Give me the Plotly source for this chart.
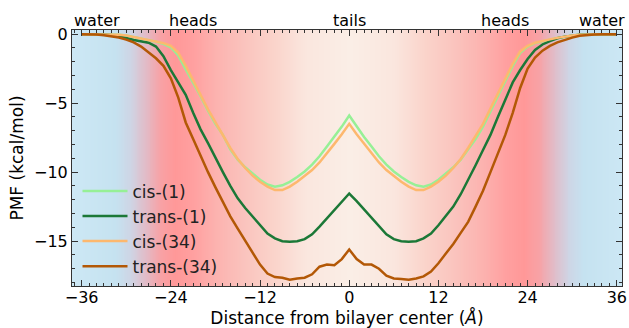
import numpy as np
import plotly.graph_objects as go

# ---- data ----
distance = list(range(-36, 37))  # Å

cis_1 = [0, 0, 0, 0, -0.02, -0.05, -0.1, -0.2, -0.3, -0.42, -0.55, -0.7,
         -0.95, -1.55, -2.5, -3.5, -4.5, -5.55, -6.5, -7.3, -8.35, -9.1,
         -9.65, -10.1, -10.55, -10.9, -11.05, -10.95, -10.7, -10.35, -9.95,
         -9.45, -8.85, -8.15, -7.45, -6.7, -5.9,
         -6.7, -7.45, -8.15, -8.85, -9.45, -9.95, -10.35, -10.7, -10.95,
         -11.05, -10.9, -10.55, -10.1, -9.65, -9.1, -8.35, -7.6, -6.7, -5.6,
         -4.5, -3.4, -2.3, -1.35, -0.9, -0.65, -0.5, -0.4, -0.28, -0.18,
         -0.1, -0.05, -0.02, 0, 0, 0, 0]

cis_34 = [0, 0, 0, 0, -0.02, -0.05, -0.1, -0.2, -0.3, -0.4, -0.52, -0.65,
          -0.85, -1.35, -2.3, -3.3, -4.4, -5.45, -6.4, -7.3, -8.25, -9.05,
          -9.7, -10.25, -10.7, -11.05, -11.3, -11.3, -11.05, -10.7, -10.3,
          -9.85, -9.3, -8.65, -7.95, -7.25, -6.5,
          -7.25, -7.95, -8.65, -9.3, -9.85, -10.3, -10.7, -11.05, -11.3,
          -11.3, -11.05, -10.7, -10.25, -9.7, -9.05, -8.25, -7.4, -6.5,
          -5.4, -4.3, -3.2, -2.15, -1.25, -0.85, -0.62, -0.48, -0.38, -0.27,
          -0.17, -0.1, -0.05, -0.02, 0, 0, 0, 0]

trans_1 = [0, 0, -0.01, -0.03, -0.07, -0.15, -0.28, -0.42, -0.52, -0.62,
           -0.9, -1.6, -2.6, -3.45, -4.4, -5.7, -6.9, -7.9, -9.0, -10.0,
           -11.0, -11.9, -12.6, -13.2, -13.85, -14.45, -14.8, -15.0, -15.05,
           -15.0, -14.85, -14.5, -13.95, -13.35, -12.7, -12.1, -11.55,
           -12.1, -12.7, -13.35, -13.95, -14.5, -14.85, -15.0, -15.05, -15.0,
           -14.8, -14.45, -13.85, -13.2, -12.5, -11.6, -10.6, -9.5, -8.4,
           -7.3, -6.0, -4.7, -3.5, -2.6, -1.8, -1.15, -0.75, -0.5, -0.3,
           -0.18, -0.1, -0.05, -0.02, -0.01, 0, 0, 0]

trans_34 = [0, 0, -0.03, -0.08, -0.15, -0.25, -0.4, -0.6, -0.9, -1.3,
            -1.75, -2.3, -3.2, -4.6, -6.4, -7.6, -8.85, -10.0, -11.1, -12.2,
            -13.2, -14.1, -15.0, -15.9, -16.7, -17.35, -17.6, -17.65, -17.8,
            -17.7, -17.65, -17.4, -16.85, -16.7, -16.75, -16.3, -15.6,
            -16.3, -16.7, -16.7, -17.0, -17.5, -17.7, -17.75, -17.8, -17.7,
            -17.55, -17.2, -16.6, -15.9, -15.2, -14.4, -13.6, -12.5, -11.35,
            -10.0, -8.7, -7.3, -5.7, -3.9, -2.5, -1.7, -1.2, -0.85, -0.6,
            -0.4, -0.25, -0.12, -0.06, -0.03, 0, 0, 0]

series_names = ["cis-(1)", "trans-(1)", "cis-(34)", "trans-(34)"]
series_values = [cis_1, trans_1, cis_34, trans_34]
series_colors = ["#96f096", "#1b7837", "#fdb86e", "#b35806"]

xticks = [-36, -24, -12, 0, 12, 24, 36]
yticks = [0, -5, -10, -15]
region_labels = ["water", "heads", "tails", "heads", "water"]
region_pos = [-34, -21, 0, 21, 34]

x_range = [-37.3, 36.7]
y_range = [-18.25, 0.3]

# background gradient (colour as a function of |distance|)
grad_stops = [0, 6, 10, 14, 18, 21, 23.5, 25.5, 27.5, 29.5, 31.5, 37.5]
grad_colors = ["rgb(250,238,230)", "rgb(250,230,222)", "rgb(250,212,203)",
               "rgb(250,196,190)", "rgb(252,178,175)", "rgb(255,160,160)",
               "rgb(255,152,152)", "rgb(247,162,166)", "rgb(225,188,200)",
               "rgb(206,213,229)", "rgb(197,226,240)", "rgb(205,232,245)"]

fig = go.Figure()

gx = np.linspace(-37.5, 37.5, 301)
zmax = grad_stops[-1]
fig.add_trace(go.Heatmap(
    x=gx, y=[-20, 2], z=[np.abs(gx), np.abs(gx)],
    zmin=0, zmax=zmax,
    colorscale=[[s / zmax, c] for s, c in zip(grad_stops, grad_colors)],
    showscale=False, hoverinfo="skip", zsmooth="best", showlegend=False))

for name, vals, col in zip(series_names, series_values, series_colors):
    fig.add_trace(go.Scatter(x=distance, y=vals, mode="lines", name=name,
                             line=dict(color=col, width=2.5)))

for lab, pos in zip(region_labels, region_pos):
    fig.add_annotation(x=pos, y=1, xref="x", yref="paper", text=lab,
                       showarrow=False, yanchor="bottom", yshift=-2,
                       font=dict(size=16, color="black"))

axis_common = dict(showline=True, linecolor="#333", linewidth=1, mirror="allticks",
                   ticks="inside", ticklen=6, tickwidth=1, tickcolor="#333",
                   showgrid=False, zeroline=False, ticklabeloverflow="allow",
                   tickfont=dict(family="DejaVu Sans", size=16, color="black"))

fig.update_xaxes(range=x_range, tickvals=xticks,
                 ticktext=[str(t).replace("-", "\u2212") for t in xticks],
                 minor=dict(dtick=1, ticks="inside", ticklen=3, tickcolor="#333"),
                 ticklabelstandoff=-3,
                 title=dict(text="Distance from bilayer center (<i>Å</i>)",
                            font=dict(family="DejaVu Sans", size=17, color="black"),
                            standoff=2),
                 **axis_common)
fig.update_yaxes(range=y_range, tickvals=yticks,
                 ticktext=[str(t).replace("-", "\u2212") for t in yticks],
                 minor=dict(dtick=1, ticks="inside", ticklen=3, tickcolor="#333"),
                 title=dict(text="PMF (kcal/mol)",
                            font=dict(family="DejaVu Sans", size=17, color="black"),
                            standoff=6),
                 **axis_common)

fig.update_layout(
    width=629, height=328,
    margin=dict(l=72, r=2, t=30, b=42),
    paper_bgcolor="white", plot_bgcolor="white",
    font=dict(family="DejaVu Sans", color="black"),
    legend=dict(x=0.01, y=0.44, xanchor="left", yanchor="top",
                bgcolor="rgba(0,0,0,0)", font=dict(size=17, color="#222"),
                itemwidth=45, tracegroupgap=0),
)

fig.write_html("out.html")
